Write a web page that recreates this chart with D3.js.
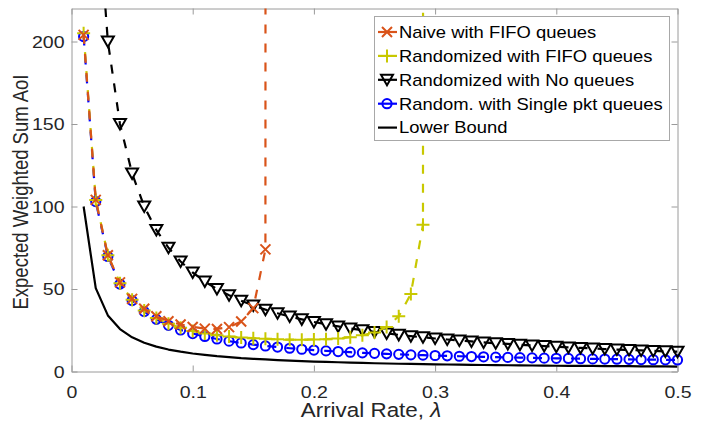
<!DOCTYPE html>
<html><head><meta charset="utf-8">
<script src="https://cdn.jsdelivr.net/npm/d3@7"></script>
<style>body{margin:0;background:#fff} svg{display:block}</style>
</head><body><svg id="c" width="718" height="428"></svg>
<script>
const lambda = [0.01,0.02,0.03,0.04,0.05,0.06,0.07,0.08,0.09,0.10,
  0.11,0.12,0.13,0.14,0.15,0.16,0.17,0.18,0.19,0.20,
  0.21,0.22,0.23,0.24,0.25,0.26,0.27,0.28,0.29,0.30,
  0.31,0.32,0.33,0.34,0.35,0.36,0.37,0.38,0.39,0.40,
  0.41,0.42,0.43,0.44,0.45,0.46,0.47,0.48,0.49,0.50];
const naiveFifo = [204,104,70.5,54,44,38,33.5,30.5,28.5,27,26,25.8,26.9,30.3,38.4,74,25000];
const randFifo = [205,104,70.5,53.5,43.5,37,32.5,29,26.5,24.5,23,22,21.2,20.6,20.2,19.8,19.5,19.3,19.3,19.4,
  19.6,20,20.8,22,23.7,27,33.5,47,89,25000];
const randNoQueue = [600,300,200,150,120,100,85.7,75,66.7,60,
  54.5,50,46.2,42.9,40,37.5,35.3,33.3,31.6,30,
  28.6,27.3,26.1,25,24,23.1,22.2,21.4,20.7,20,
  19.4,18.75,18.2,17.6,17.1,16.7,16.2,15.8,15.4,15,
  14.6,14.3,14,13.6,13.3,13,12.8,12.5,12.2,12];
const randSingle = [203,103,69.7,53,43,36.3,31.6,28,25.2,23,
  21.2,19.7,18.4,17.3,16.3,15.5,14.8,14.1,13.5,13,
  12.5,12.1,11.7,11.3,11,10.7,10.4,10.1,9.9,9.7,
  9.5,9.25,9.05,8.9,8.7,8.55,8.4,8.25,8.1,8,
  7.9,7.75,7.65,7.55,7.45,7.35,7.25,7.15,7.1,7.0];
const lowerBound = [100,50.5,34,25.7,20.7,17.4,15.1,13.3,12,10.9,
  10.1,9.3,8.7,8.1,7.7,7.3,6.9,6.6,6.3,6.0,
  5.8,5.6,5.4,5.2,5.0,4.85,4.7,4.6,4.45,4.35,
  4.25,4.15,4.05,3.95,3.85,3.8,3.7,3.65,3.55,3.5,
  3.45,3.4,3.35,3.3,3.25,3.2,3.15,3.1,3.05,3.0];
const xTicks = [0,0.1,0.2,0.3,0.4,0.5];
const xTickLabels = ["0","0.1","0.2","0.3","0.4","0.5"];
const yTicks = [0,50,100,150,200];
const yTickLabels = ["0","50","100","150","200"];
const legendLabels = ["Naive with FIFO queues","Randomized with FIFO queues","Randomized with No queues","Random. with Single pkt queues","Lower Bound"];

const FONT = "'Liberation Sans', Arial, sans-serif";
const TXT = "#262626";
const AX = "#9a9a9a";
const SX = 1.15;

const svg = d3.select("#c");
const x = d3.scaleLinear().domain([0,0.5]).range([71.5,677.5]);
const y = d3.scaleLinear().domain([0,220]).range([371.5,8.5]);

svg.append("defs").append("clipPath").attr("id","plotclip")
  .append("rect").attr("x",71.5).attr("y",8.5).attr("width",606).attr("height",363);

// axes
function styleAxis(g){
  g.select(".domain").attr("stroke",AX).attr("stroke-width",1);
  g.selectAll(".tick line").attr("stroke",AX).attr("stroke-width",1);
}
const gB = svg.append("g").attr("transform","translate(0,371.5)")
  .call(d3.axisBottom(x).tickValues(xTicks).tickFormat((d,i)=>xTickLabels[i]).tickSizeInner(-6).tickSizeOuter(0).tickPadding(13));
const gT = svg.append("g").attr("transform","translate(0,8.5)")
  .call(d3.axisTop(x).tickValues(xTicks).tickFormat("").tickSizeInner(-6).tickSizeOuter(0));
const gL = svg.append("g").attr("transform","translate(71.5,0)")
  .call(d3.axisLeft(y).tickValues(yTicks).tickFormat((d,i)=>yTickLabels[i]).tickSizeInner(-6).tickSizeOuter(0).tickPadding(7));
const gR = svg.append("g").attr("transform","translate(677.5,0)")
  .call(d3.axisRight(y).tickValues(yTicks).tickFormat("").tickSizeInner(-6).tickSizeOuter(0));
[gB,gT,gL,gR].forEach(styleAxis);
gB.selectAll("text").attr("font-family",FONT).attr("font-size",17).attr("fill",TXT)
  .attr("y",0).attr("dy",0).attr("transform",`translate(0,26) scale(${SX},1)`);
gL.selectAll("text").attr("font-family",FONT).attr("font-size",17).attr("fill",TXT)
  .attr("x",0).attr("dy","0.35em").attr("transform",`translate(-7,0) scale(${SX},1)`);

// labels
svg.append("text").attr("font-family",FONT).attr("font-size",19.5).attr("fill",TXT)
  .attr("text-anchor","middle").attr("transform",`translate(371,417) scale(${SX},1)`)
  .call(t=>{t.append("tspan").text("Arrival Rate, ");t.append("tspan").attr("font-style","italic").text("λ");});
svg.append("text").attr("font-family",FONT).attr("font-size",18.5).attr("fill",TXT)
  .attr("text-anchor","middle").attr("transform",`translate(27.5,192) scale(${SX},1) rotate(-90)`)
  .text("Expected Weighted Sum AoI");

// series
const series = [
  {name:legendLabels[4], vals:lowerBound, color:"#000000", dash:null, marker:null},
  {name:legendLabels[3], vals:randSingle, color:"#0000ff", dash:"9,10", marker:"circle"},
  {name:legendLabels[2], vals:randNoQueue, color:"#000000", dash:"9,10", marker:"tri"},
  {name:legendLabels[1], vals:randFifo, color:"#c8c800", dash:"9,10", marker:"plus"},
  {name:legendLabels[0], vals:naiveFifo, color:"#d95319", dash:"9,10", marker:"cross"}
];
const markerPath = {
  cross: "M-5,-5L5,5M-5,5L5,-5",
  plus: "M-6.5,0L6.5,0M0,-6.5L0,6.5",
  tri: "M-6,-5L6,-5L0,5.5Z",
  circle: "M4.6,0A4.6,4.6 0 1,1 -4.6,0A4.6,4.6 0 1,1 4.6,0Z"
};
const line = d3.line().x(d=>x(d[0])).y(d=>y(d[1]));
const plot = svg.append("g");
series.forEach(s=>{
  const pts = s.vals.map((v,i)=>[lambda[i],v]);
  const g = plot.append("g");
  g.append("path").attr("clip-path","url(#plotclip)").attr("d",line(pts))
    .attr("fill","none").attr("stroke",s.color).attr("stroke-width",2.2)
    .attr("stroke-dasharray",s.dash).attr("stroke-linejoin","round");
  if(s.marker){
    g.selectAll("path.m").data(pts.filter(p=>p[1]<=220)).enter().append("path").attr("class","m")
      .attr("transform",p=>`translate(${x(p[0])},${y(p[1])})`)
      .attr("d",markerPath[s.marker]).attr("fill","none").attr("stroke",s.color).attr("stroke-width",2);
  }
});

// legend
const lg = svg.append("g");
lg.append("rect").attr("x",374.5).attr("y",16.5).attr("width",295).attr("height",124)
  .attr("fill","#fff").attr("stroke","#a8a8a8").attr("stroke-width",1);
const legOrder = [series[4],series[3],series[2],series[1],series[0]];
legOrder.forEach((s,i)=>{
  const cy = 32 + i*23.9;
  lg.append("line").attr("x1",378).attr("x2",397).attr("y1",cy).attr("y2",cy)
    .attr("stroke",s.color).attr("stroke-width",2.2);
  if(s.marker){
    lg.append("path").attr("transform",`translate(387,${cy})`).attr("d",markerPath[s.marker])
      .attr("fill","none").attr("stroke",s.color).attr("stroke-width",2);
  }
  lg.append("text").attr("font-family",FONT).attr("font-size",16).attr("fill","#000")
    .attr("transform",`translate(399,${cy+5.8}) scale(${SX},1)`).text(s.name);
});
</script></body></html>
